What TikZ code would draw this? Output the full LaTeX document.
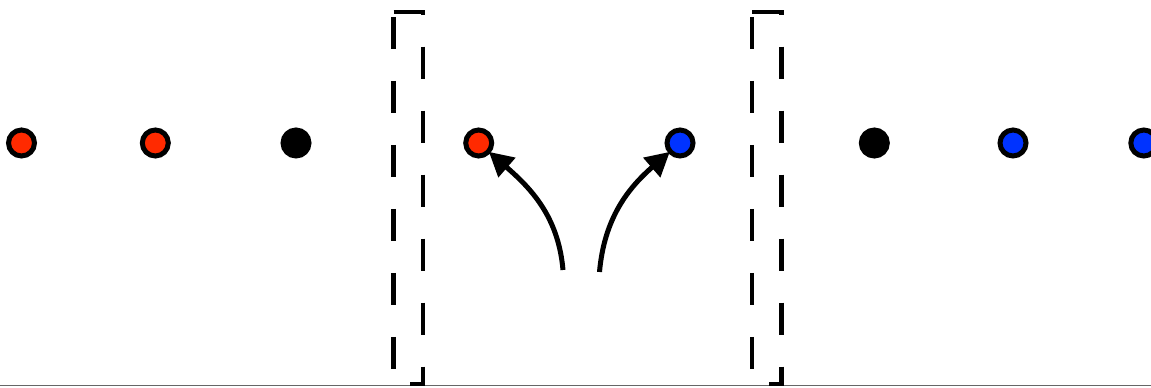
\documentclass[tikz,border=0pt]{standalone}
\usepackage{tikz}
\usetikzlibrary{arrows.meta}
\definecolor{dotred}{HTML}{FF2A00}
\definecolor{dotblue}{HTML}{0033FF}

\begin{document}
\begin{tikzpicture}[
    x=1pt, y=1pt,
    dot/.style={draw=black, circle, line width=5pt, minimum size=26pt, inner sep=0pt},
    reddot/.style={dot, fill=dotred},
    bluedot/.style={dot, fill=dotblue},
    blackdot/.style={dot, fill=black},
    wall/.style={line width=4.5pt, dash pattern=on 32pt off 32pt},
    arr/.style={-{Triangle[length=24pt, width=25pt]}, line width=5pt, shorten >=-2pt}
]
    \useasboundingbox (0,0) rectangle (1151,388);

    % ground line
    \draw[black!60, line width=1pt] (0,2) -- (1151,2);

    % particles
    \node[reddot] (r1) at (21.5,245) {};
    \node[reddot] (r2) at (155.3,245) {};
    \node[blackdot] (k1) at (296,245) {};
    \node[reddot] (r3) at (478.7,245) {};
    \node[bluedot] (b1) at (680,245) {};
    \node[blackdot] (k2) at (874.3,245) {};
    \node[bluedot] (b2) at (1013,245) {};
    \node[bluedot] (b3) at (1143.8,245) {};

    % left wall
    \draw[wall] (393.5,371) -- (393.5,2);
    \draw[wall] (393.7,376) -- (423,376) -- (423,4) -- (410,4);

    % right wall
    \draw[wall] (752.2,371) -- (752.2,2);
    \draw[wall] (752.4,376) -- (781.7,376) -- (781.7,4) -- (768.7,4);

    % emission
    \coordinate (srcl) at (563,118);
    \coordinate (srcr) at (599.5,116);
    \draw[arr] (srcl) to[out=95, in=-41] (r3);
    \draw[arr] (srcr) to[out=85, in=221] (b1);
\end{tikzpicture}
\end{document}
